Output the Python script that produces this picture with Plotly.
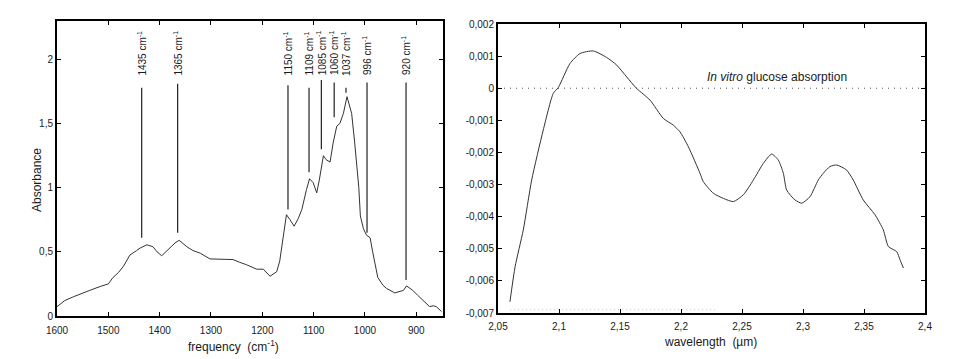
import plotly.graph_objects as go

# ---------------- data ----------------
# Left panel: IR absorbance spectrum
freq = [1600,1585,1568,1550,1536,1516,1500,1491,1480,1471,1458,1445,1438,1425,1413,1405,1396,1388,1380,1370,
        1362,1355,1347,1335,1321,1302,1280,1257,1245,1231,1211,1198,1185,1172,1166,1162,1157,1153,1146,1138,
        1130,1123,1114,1108,1101,1094,1089,1081,1076,1068,1062,1055,1049,1042,1035,1026,1020,1015,1012,1009,
        1003,997,990,985,981,975,965,958,942,932,925,919,907,897,887,874,867,861,851]
absorb = [0.073,0.12,0.15,0.18,0.2,0.23,0.25,0.3,0.34,0.385,0.475,0.51,0.53,0.555,0.54,0.5,0.47,0.5,0.53,0.57,
          0.59,0.565,0.54,0.51,0.49,0.445,0.44,0.44,0.42,0.4,0.365,0.365,0.31,0.345,0.43,0.54,0.7,0.79,0.75,0.7,
          0.76,0.83,0.985,1.07,1.04,0.96,1.06,1.25,1.22,1.2,1.35,1.48,1.5,1.58,1.71,1.58,1.35,1.12,1.0,0.78,
          0.68,0.63,0.61,0.5,0.41,0.3,0.24,0.215,0.18,0.19,0.2,0.235,0.2,0.16,0.125,0.073,0.08,0.073,0.035]

# Peak markers
peak_freq = [1435, 1365, 1150, 1109, 1085, 1060, 1037, 996, 920]
peak_top = [1.78, 1.81, 1.80, 1.78, 1.84, 1.82, 1.78, 1.82, 1.82]
peak_bottom = [0.61, 0.65, 0.83, 1.12, 1.30, 1.55, 1.74, 0.65, 0.28]
peak_label_y = 1.86

# Right panel: in vitro glucose absorption
wl = [2.0598,2.064,2.0707,2.0776,2.0871,2.0953,2.0994,2.109,2.1172,2.1281,2.139,2.1473,2.1555,2.1637,2.1746,
      2.1855,2.1937,2.1992,2.206,2.2156,2.2183,2.2265,2.2347,2.2429,2.2511,2.2593,2.2675,2.2743,2.2798,2.2839,
      2.2866,2.2934,2.2989,2.3057,2.3125,2.3166,2.3221,2.3276,2.3358,2.3412,2.3494,2.359,2.3658,2.37,2.3768,
      2.3795,2.3823]
glu = [-0.00665,-0.00556,-0.00442,-0.00286,-0.0013,-0.00016,0.00002,0.00077,0.00108,0.00116,0.00096,0.00072,
       0.00035,-0.00001,-0.00037,-0.00094,-0.00115,-0.00136,-0.00182,-0.00265,-0.00291,-0.00327,-0.00343,-0.00353,
       -0.00332,-0.00286,-0.00234,-0.00205,-0.00224,-0.00265,-0.00317,-0.00348,-0.00358,-0.00338,-0.00286,-0.00265,
       -0.00244,-0.00239,-0.00255,-0.00286,-0.00348,-0.00394,-0.00441,-0.00493,-0.00509,-0.00534,-0.0056]

# Tick labels
left_x_ticks = [1600, 1500, 1400, 1300, 1200, 1100, 1000, 900]
left_y_ticks = [0, 0.5, 1, 1.5, 2]
left_y_text = ["0", "0,5", "1", "1,5", "2"]
right_x_ticks = [2.05, 2.1, 2.15, 2.2, 2.25, 2.3, 2.35, 2.4]
right_x_text = ["2,05", "2,1", "2,15", "2,2", "2,25", "2,3", "2,35", "2,4"]
right_y_ticks = [0.002, 0.001, 0, -0.001, -0.002, -0.003, -0.004, -0.005, -0.006, -0.007]
right_y_text = ["0,002", "0,001", "0", "-0,001", "-0,002", "-0,003", "-0,004", "-0,005", "-0,006", "-0,007"]

# ---------------- figure ----------------
W, H = 957, 359
OFF = 8  # page body margin in the browser
FONT = "Liberation Sans, Arial, sans-serif"
CURVE = "#333333"
TXT = "#1a1a1a"


def px(x):
    return (x - OFF) / W


def py(y):
    return 1 - (y - OFF) / H


fig = go.Figure()

fig.add_trace(go.Scatter(x=freq, y=absorb, mode="lines", line=dict(color=CURVE, width=1),
                         xaxis="x", yaxis="y", showlegend=False, hoverinfo="skip"))

lx, ly = [], []
for f, t, b in zip(peak_freq, peak_top, peak_bottom):
    lx += [f, f, None]
    ly += [b, t, None]
fig.add_trace(go.Scatter(x=lx, y=ly, mode="lines", line=dict(color="#222222", width=1.2),
                         xaxis="x", yaxis="y", showlegend=False, hoverinfo="skip"))

fig.add_trace(go.Scatter(x=[2.05, 2.4], y=[0, 0], mode="lines",
                         line=dict(color="#555555", width=1, dash="1px,5px"),
                         xaxis="x2", yaxis="y2", showlegend=False, hoverinfo="skip"))
fig.add_trace(go.Scatter(x=[2.06, 2.228], y=[-0.0069, -0.0069], mode="lines",
                         line=dict(color="#b5c9b5", width=1, dash="1px,3px"),
                         xaxis="x2", yaxis="y2", showlegend=False, hoverinfo="skip"))
fig.add_trace(go.Scatter(x=wl, y=glu, mode="lines", line=dict(color=CURVE, width=1, shape="spline", smoothing=0.6),
                         xaxis="x2", yaxis="y2", showlegend=False, hoverinfo="skip"))

axis_common = dict(showline=True, linewidth=2, linecolor="black", mirror="ticks",
                   ticks="inside", ticklen=4, tickwidth=1, tickcolor="black",
                   showgrid=False, zeroline=False, automargin=False,
                   tickfont=dict(family=FONT, size=10, color=TXT))

fig.update_layout(
    width=W, height=H,
    margin=dict(l=0, r=0, t=0, b=0, pad=0, autoexpand=False),
    paper_bgcolor="white", plot_bgcolor="white",
    font=dict(family=FONT, color=TXT),
    xaxis=dict(domain=[px(57), px(443)], range=[1600, 848], tickvals=left_x_ticks,
               anchor="y", ticklabelstandoff=4, **axis_common),
    yaxis=dict(domain=[py(316), py(21)], range=[0, 2.3], tickvals=left_y_ticks,
               ticktext=left_y_text, anchor="x", **axis_common),
    xaxis2=dict(domain=[px(498), px(925)], range=[2.05, 2.4], tickvals=right_x_ticks,
                ticktext=right_x_text, anchor="y2", ticklabelstandoff=3, **axis_common),
    yaxis2=dict(domain=[py(313), py(24)], range=[-0.007, 0.002], tickvals=right_y_ticks,
                ticktext=right_y_text, anchor="x2", **axis_common),
)

ann = []
for f in peak_freq:
    ann.append(dict(x=f, y=peak_label_y, xref="x", yref="y", text=f"{f} cm<sup>-1</sup>",
                    textangle=-90, showarrow=False, xanchor="center", yanchor="bottom",
                    font=dict(family=FONT, size=10, color=TXT)))
ann.append(dict(x=px(233), y=py(346), xref="paper", yref="paper", xanchor="center", yanchor="middle",
                text="frequency  (cm<sup>-1</sup>)", showarrow=False,
                font=dict(family=FONT, size=12, color=TXT)))
ann.append(dict(x=px(37), y=py(180), xref="paper", yref="paper", xanchor="center", yanchor="middle",
                text="Absorbance", textangle=-90, showarrow=False,
                font=dict(family=FONT, size=12, color=TXT)))
ann.append(dict(x=px(710), y=py(342), xref="paper", yref="paper", xanchor="center", yanchor="middle",
                text="wavelength  (µm)", showarrow=False,
                font=dict(family=FONT, size=12, color=TXT)))
ann.append(dict(x=2.2197, y=0.000344, xref="x2", yref="y2", xanchor="left", yanchor="middle",
                text="<i>In vitro</i> glucose absorption", showarrow=False,
                font=dict(family=FONT, size=12, color=TXT)))
fig.update_layout(annotations=ann)

fig.write_html("out.html")
